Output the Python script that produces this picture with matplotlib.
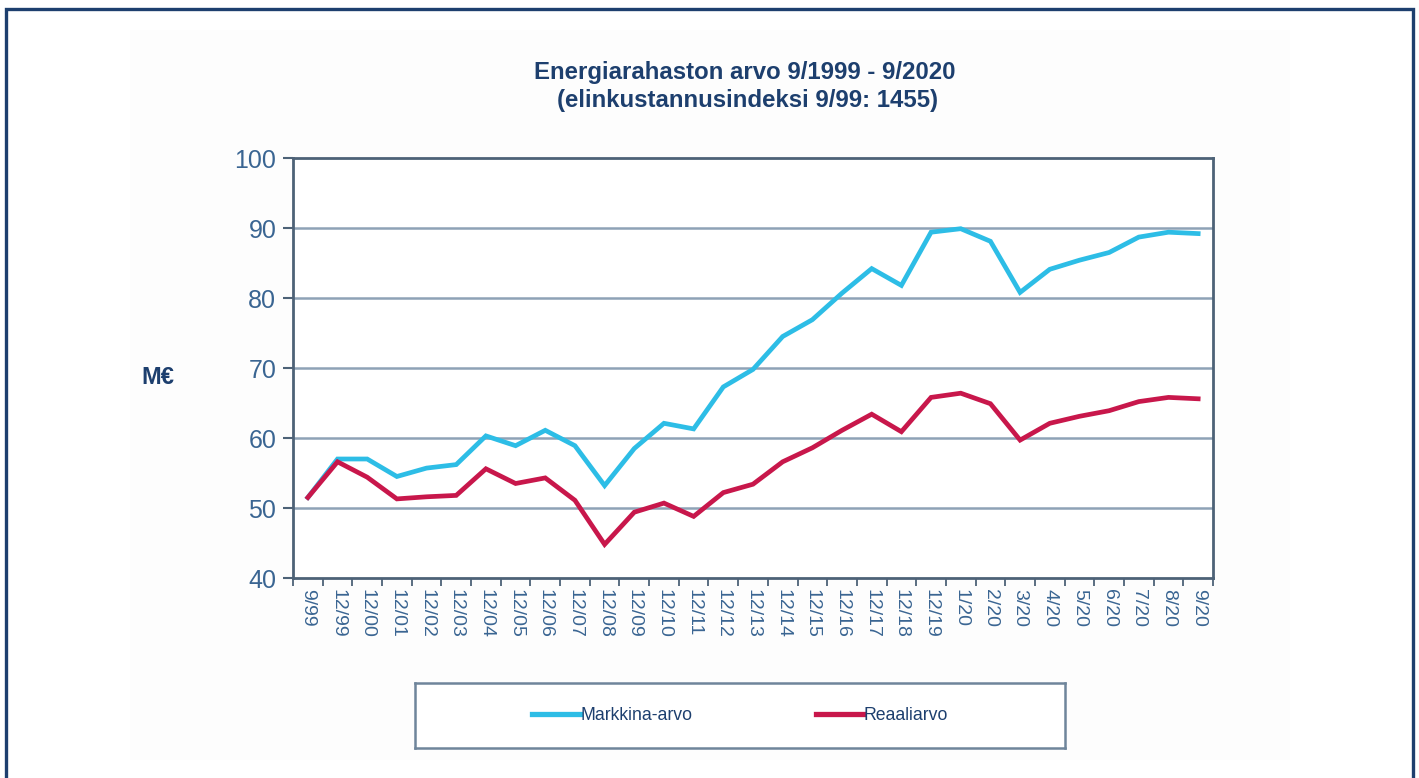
import matplotlib.pyplot as plt
from matplotlib.patches import Rectangle
from matplotlib.lines import Line2D

plt.rcParams['font.family'] = ['Liberation Sans', 'DejaVu Sans']

# kuukaudet (x-akseli)
labels = ['9/99', '12/99', '12/00', '12/01', '12/02', '12/03', '12/04', '12/05',
          '12/06', '12/07', '12/08', '12/09', '12/10', '12/11', '12/12', '12/13',
          '12/14', '12/15', '12/16', '12/17', '12/18', '12/19', '1/20', '2/20',
          '3/20', '4/20', '5/20', '6/20', '7/20', '8/20', '9/20']

markkina_arvo = [51.5, 57.0, 57.0, 54.5, 55.7, 56.2, 60.3, 58.9, 61.1, 58.9,
                 53.2, 58.5, 62.1, 61.3, 67.3, 69.8, 74.5, 76.9, 80.7, 84.2,
                 81.8, 89.4, 89.9, 88.1, 80.8, 84.1, 85.4, 86.5, 88.7, 89.4,
                 89.2]
reaaliarvo = [51.5, 56.6, 54.4, 51.3, 51.6, 51.8, 55.6, 53.5, 54.3, 51.1,
              44.8, 49.4, 50.7, 48.8, 52.2, 53.4, 56.6, 58.6, 61.1, 63.4,
              60.9, 65.8, 66.4, 64.9, 59.7, 62.1, 63.1, 63.9, 65.2, 65.8,
              65.6]

navy = '#1d3f6e'
tick_col = '#3a6592'
spine_col = '#4d6277'
grid_col = '#8ea2b6'
blue = '#2dbde6'
red = '#c8174b'

fig = plt.figure(figsize=(14.19, 7.78), dpi=100)
fig.patch.set_facecolor('white')

# kehys
fig.patches.append(Rectangle((6 / 1419, -0.05), 1407 / 1419, 0.05 + 769 / 778,
                             transform=fig.transFigure, fill=False,
                             edgecolor=navy, linewidth=2.4))
fig.patches.append(Rectangle((130 / 1419, 18 / 778), 1160 / 1419, 730 / 778,
                             transform=fig.transFigure, facecolor='#fdfdfd',
                             edgecolor='none', zorder=-1))

ax = fig.add_axes([293 / 1419, 200 / 778, 920 / 1419, 420 / 778])
ax.set_facecolor('white')
x = list(range(len(labels)))
ax.plot(x, markkina_arvo, color=blue, linewidth=3.4, solid_joinstyle='miter', zorder=3)
ax.plot(x, reaaliarvo, color=red, linewidth=3.4, solid_joinstyle='miter', zorder=3)

ax.set_xlim(-0.5, len(labels) - 0.5)
ax.set_ylim(40, 100)
ax.set_yticks(range(40, 101, 10))
ax.tick_params(axis='y', labelsize=18, labelcolor=tick_col, color=spine_col,
               length=7, width=1.5, pad=5)
for v in range(50, 100, 10):
    ax.axhline(v, color=grid_col, linewidth=1.8, zorder=1)

ax.set_xticks(x)
ax.set_xticklabels(labels, rotation=-90, fontsize=14, color=tick_col)
ax.tick_params(axis='x', length=0, pad=8)
ax.set_xticks([i - 0.5 for i in range(len(labels) + 1)], minor=True)
ax.tick_params(axis='x', which='minor', length=6, width=1.3, color=spine_col)

for s in ax.spines.values():
    s.set_color(spine_col)
    s.set_linewidth(2.0)

fig.text(745 / 1419, 1 - 72 / 778, 'Energiarahaston arvo 9/1999 - 9/2020',
         ha='center', va='center', fontsize=17.3, fontweight='bold', color=navy)
fig.text(748 / 1419, 1 - 101 / 778, '(elinkustannusindeksi 9/99: 1455)',
         ha='center', va='center', fontsize=17.3, fontweight='bold', color=navy)
fig.text(158 / 1419, 1 - 378 / 778, 'M€', ha='center', va='center',
         fontsize=17, fontweight='bold', color=navy)

# selite
lax = fig.add_axes([415 / 1419, 30 / 778, 650 / 1419, 65 / 778])
lax.set_xticks([])
lax.set_yticks([])
for s in lax.spines.values():
    s.set_color('#6f859b')
    s.set_linewidth(1.8)
handles = [Line2D([], [], color=blue, linewidth=3.8),
           Line2D([], [], color=red, linewidth=3.8)]
leg = lax.legend(handles, ['Markkina-arvo', 'Reaaliarvo'], loc='center',
                 ncol=2, frameon=False, fontsize=12.7, handlelength=2.7,
                 handletextpad=0.0, columnspacing=7.0,
                 bbox_to_anchor=(0.5, 0.5))
for t in leg.get_texts():
    t.set_color(navy)

fig.savefig('out.png', dpi=100)
